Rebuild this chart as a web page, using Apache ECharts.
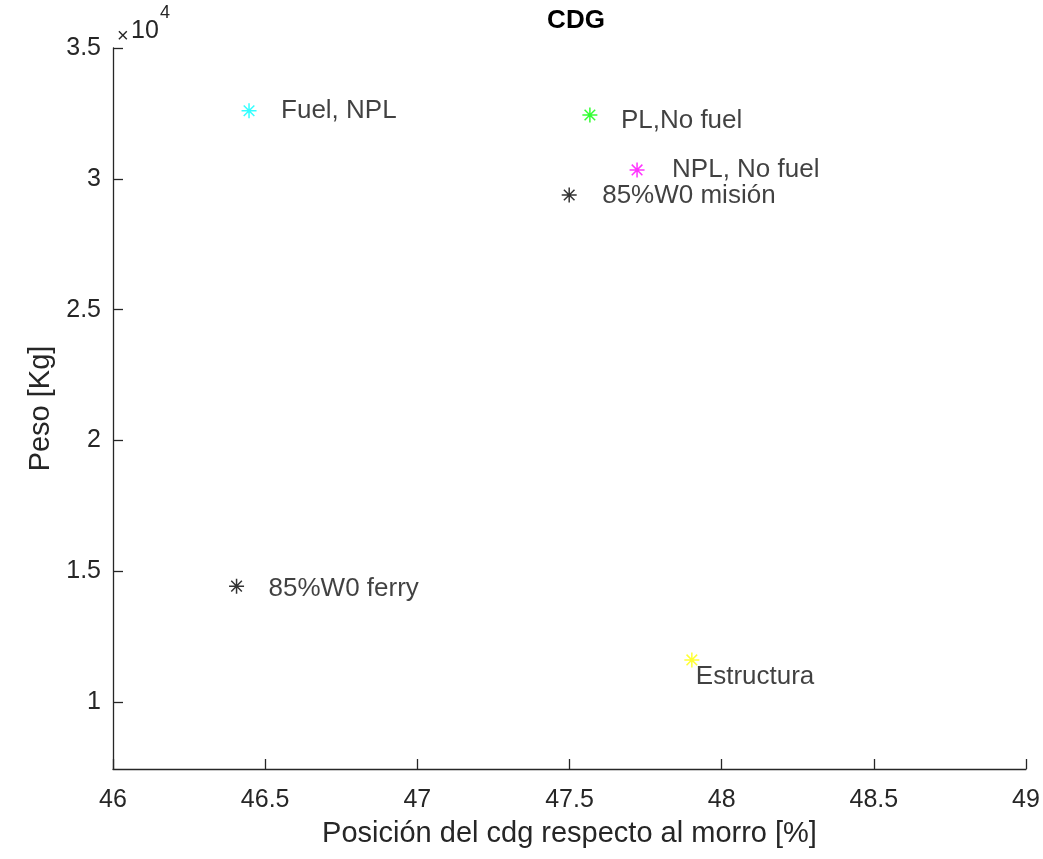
<!DOCTYPE html>
<html>
<head>
<meta charset="utf-8">
<script src="https://cdn.jsdelivr.net/npm/echarts@6/dist/echarts.min.js"></script>
<style>
html,body{margin:0;padding:0;background:#fff;}
#chart{width:1043px;height:859px;}
</style>
</head>
<body>
<div id="chart"></div>
<script>
// Data
const pointNames = ['Fuel, NPL', 'PL,No fuel', 'NPL, No fuel', '85%W0 misión', '85%W0 ferry', 'Estructura'];
const xValues = [46.447, 47.567, 47.722, 47.499, 46.406, 47.902];
const yValues = [32600, 32440, 30340, 29380, 14430, 11610];
const pointColors = ['#00ffff', '#00ff00', '#ff00ff', '#000000', '#000000', '#ffff00'];
const xTicks = [46, 46.5, 47, 47.5, 48, 48.5, 49];
const yTicks = [1, 1.5, 2, 2.5, 3, 3.5];

// label style (offsets in px)
const labelStyle = [
  {distance: 22, dy: 0},
  {distance: 21, dy: 6},
  {distance: 25, dy: 0},
  {distance: 23, dy: 1},
  {distance: 22, dy: 3},
  {distance: -6, dy: 17}
];

const FONT = 'Liberation Sans, Arial, Helvetica, sans-serif';
const star = 'path://M0,-1L0,1M-1,0L1,0M-0.707,-0.707L0.707,0.707M-0.707,0.707L0.707,-0.707';

const series = pointNames.map((n, i) => ({
  type: 'scatter',
  name: n,
  symbol: star,
  symbolSize: 15,
  itemStyle: {color: 'none', borderColor: pointColors[i], borderWidth: 1.5},
  emphasis: {disabled: true},
  data: [[xValues[i], yValues[i]]],
  label: {
    show: true,
    position: 'right',
    distance: labelStyle[i].distance,
    offset: [0, labelStyle[i].dy],
    formatter: n,
    color: '#111',
    fontFamily: FONT,
    fontSize: 26
  }
}));

const chart = echarts.init(document.getElementById('chart'), null, {renderer: 'canvas'});
chart.setOption({
  animation: false,
  backgroundColor: '#fff',
  title: {
    text: 'CDG',
    left: 571, top: 3,
    textAlign: 'center',
    textStyle: {fontFamily: FONT, fontWeight: 'bold', fontSize: 26, color: '#000'}
  },
  grid: {left: 113, right: 17, top: 48, bottom: 90},
  xAxis: {
    type: 'value',
    min: 46, max: 49, interval: 0.5,
    name: 'Posición del cdg respecto al morro [%]',
    nameLocation: 'middle',
    nameGap: 50,
    nameTextStyle: {fontFamily: FONT, fontSize: 29, color: '#262626'},
    axisLine: {show: true, lineStyle: {color: '#262626', width: 1.3}},
    axisTick: {show: true, inside: true, length: 10, lineStyle: {color: '#262626', width: 1.3}},
    axisLabel: {fontFamily: FONT, fontSize: 25, color: '#262626', margin: 19,
      formatter: v => xTicks.includes(v) ? String(v) : ''},
    splitLine: {show: false}
  },
  yAxis: {
    type: 'value',
    min: 7440, max: 35000, interval: 5000,
    name: 'Peso [Kg]',
    nameLocation: 'middle',
    nameGap: 58,
    nameTextStyle: {fontFamily: FONT, fontSize: 29, color: '#262626'},
    axisLine: {show: true, lineStyle: {color: '#262626', width: 1.3}},
    axisTick: {show: true, inside: true, length: 10, lineStyle: {color: '#262626', width: 1.3},
      customValues: yTicks.map(v => v * 10000)},
    axisLabel: {fontFamily: FONT, fontSize: 25, color: '#262626', margin: 12,
      customValues: yTicks.map(v => v * 10000),
      formatter: v => String(v / 10000)},
    splitLine: {show: false}
  },
  graphic: [
    {type: 'text', left: 117, top: 26, style: {text: '×', fontFamily: FONT, fontSize: 20, fill: '#262626'}},
    {type: 'text', left: 131, top: 19, style: {text: '10', fontFamily: FONT, fontSize: 25, fill: '#262626'}},
    {type: 'text', left: 160, top: 4, style: {text: '4', fontFamily: FONT, fontSize: 18, fill: '#262626'}}
  ],
  series: series
});
</script>
</body>
</html>
